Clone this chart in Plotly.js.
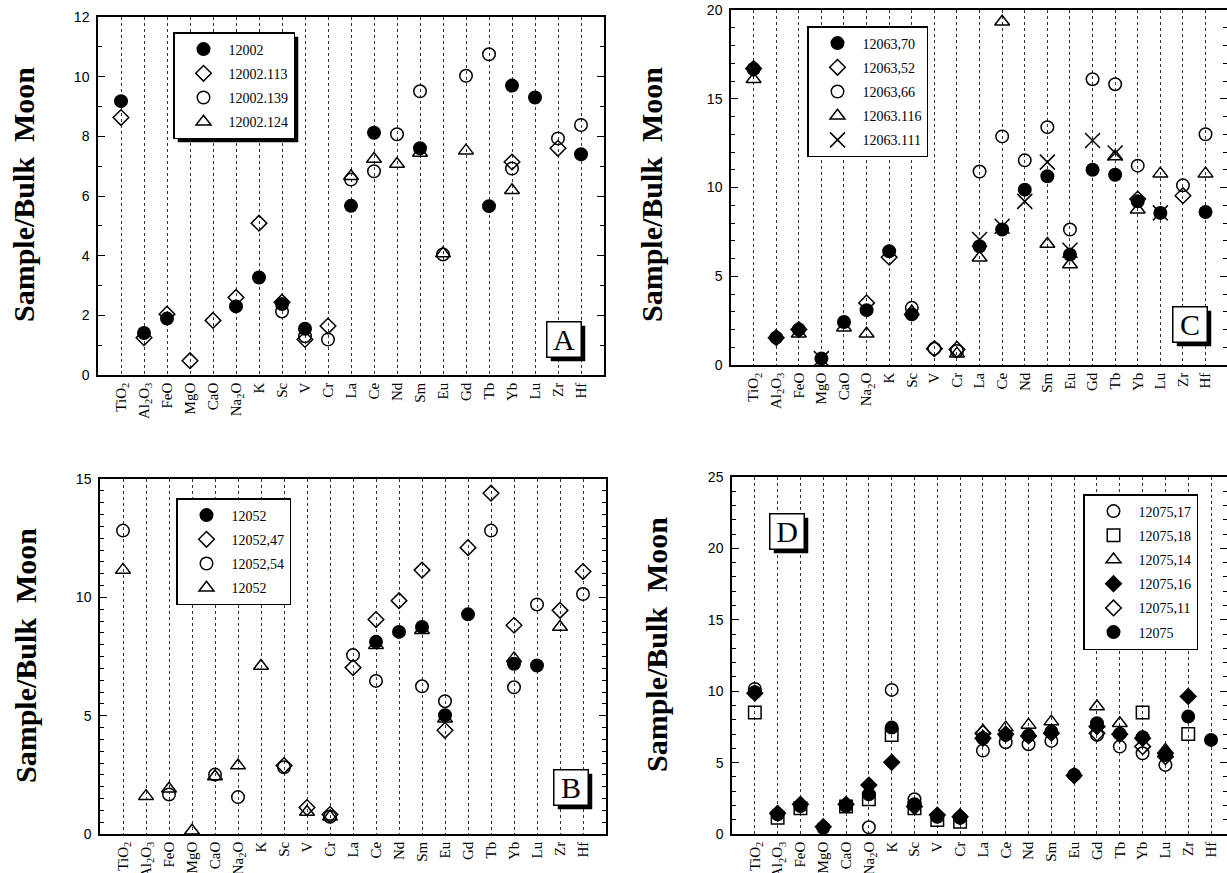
<!DOCTYPE html>
<html><head><meta charset="utf-8">
<script src="https://cdn.plot.ly/plotly-3.0.1.min.js"></script>
<style>html,body{margin:0;padding:0;background:#fff}#chart{width:1227px;height:873px}</style>
</head><body><div id="chart"></div>
<script>
// ---------------- DATA ----------------
const categories = ['TiO2','Al2O3','FeO','MgO','CaO','Na2O','K','Sc','V','Cr','La','Ce','Nd','Sm','Eu','Gd','Tb','Yb','Lu','Zr','Hf'];
const tickLabels = ['TiO<sub>2</sub>','Al<sub>2</sub>O<sub>3</sub>','FeO','MgO','CaO','Na<sub>2</sub>O','K','Sc','V','Cr','La','Ce','Nd','Sm','Eu','Gd','Tb','Yb','Lu','Zr','Hf'];

// Panel A
const namesA = ['12002','12002.113','12002.139','12002.124'];
const a_12002     = [9.18,1.41,1.89,null,null,2.30,3.27,2.38,1.55,null,5.67,8.12,null,7.60,null,null,5.66,9.70,9.30,null,7.40];
const a_12002_113 = [8.63,1.25,2.04,0.48,1.83,2.60,5.09,2.44,1.19,1.64,null,null,null,null,null,null,null,7.14,null,7.60,null];
const a_12002_139 = [null,null,null,null,null,null,null,2.13,1.30,1.19,6.55,6.83,8.07,9.51,4.04,10.03,10.75,6.92,null,7.93,8.38];
const a_12002_124 = [null,null,null,null,null,null,null,null,null,null,6.66,7.24,7.07,7.44,4.07,7.52,null,6.19,null,null,null];

// Panel B
const namesB = ['12052','12052,47','12052,54','12052'];
const b_12052    = [null,null,null,null,null,null,null,null,null,null,null,8.12,8.54,8.75,5.02,9.28,null,7.19,7.12,null,null];
const b_12052_47 = [null,null,null,null,null,null,null,2.89,1.12,0.82,7.03,9.06,9.86,11.15,4.38,12.10,14.40,8.82,null,9.45,11.09];
const b_12052_54 = [12.82,null,1.67,null,2.51,1.56,null,2.82,null,0.73,7.56,6.47,null,6.24,5.61,null,12.82,6.20,9.70,null,10.14];
const b_12052_t  = [11.16,1.60,1.91,0.14,2.43,2.89,7.10,null,0.93,0.73,null,7.98,null,8.61,4.87,null,null,7.42,null,8.75,null];

// Panel C
const namesC = ['12063,70','12063,52','12063,66','12063.116','12063.111'];
const c_70  = [16.68,1.54,2.00,0.36,2.42,3.09,6.41,2.85,null,null,6.69,7.63,9.88,10.63,6.22,11.00,10.72,9.22,8.57,null,8.62];
const c_52  = [16.70,1.54,2.00,null,null,3.50,6.07,null,0.92,0.88,null,null,null,null,null,null,null,9.35,null,9.54,null];
const c_66  = [null,null,null,null,null,null,null,3.22,0.92,0.79,10.90,12.88,11.53,13.40,7.63,16.10,15.82,11.23,null,10.12,13.00];
const c_116 = [16.10,null,1.76,null,2.10,1.76,null,3.00,null,0.64,6.04,19.34,null,6.82,5.66,null,11.75,8.75,10.78,null,10.78];
const c_111 = [null,null,null,0.36,null,null,null,null,null,null,7.07,7.82,9.22,11.43,6.47,12.65,11.94,null,8.57,null,null];

// Panel D
const namesD = ['12075,17','12075,18','12075,14','12075,16','12075,11','12075'];
const d_17 = [10.16,null,null,null,null,0.47,10.09,2.43,null,null,5.84,6.43,6.29,6.52,null,6.94,6.12,5.65,4.84,null,null];
const d_18 = [8.50,1.14,1.80,null,1.92,2.43,6.94,1.80,0.98,0.86,null,null,null,null,null,null,null,8.50,null,7.01,null];
const d_14 = [null,null,null,null,null,null,null,null,null,null,7.22,7.45,7.64,7.87,null,8.93,7.76,null,5.89,null,null];
const d_16 = [9.86,1.45,2.08,0.51,2.08,3.43,5.02,1.92,1.33,1.21,6.70,6.99,6.87,7.06,4.09,7.52,6.99,6.70,5.65,9.63,null];
const d_11 = [null,null,null,null,null,null,null,null,null,null,7.06,null,null,null,null,7.06,null,6.12,5.42,null,null];
const d_12075 = [9.93,1.38,1.96,0.44,1.96,2.78,7.45,2.08,1.21,1.14,6.70,6.94,6.89,7.17,4.14,7.76,7.01,6.78,5.54,8.22,6.59];

const panelLetters = ['A','B','C','D'];
const yTitle = 'Sample/Bulk\u00a0\u00a0Moon';

// ---------------- LAYOUT HELPERS ----------------
const W = 1227, H = 873;
const PX = p => p / W;
const PY = p => 1 - p / H;
const SERIF = 'Liberation Serif, Times New Roman, serif';
const SANS = 'Liberation Sans, Arial, sans-serif';

const STY = {
  filledCircle: {symbol:'circle', size:12.5},
  openDiamond:  {symbol:'diamond-open', size:12},
  openCircle:   {symbol:'circle-open', size:12.5},
  openTriangle: {symbol:'triangle-up-open', size:13},
  cross:        {symbol:'x-thin-open', size:15},
  openSquare:   {symbol:'square-open', size:12.5},
  filledDiamond:{symbol:'diamond', size:12}
};

let gid = 0;
function tr(name, y, sty, ax, legend) {
  gid++;
  return {
    type:'scatter', mode:'markers', x:categories, y:y, name:name,
    xaxis:'x'+ax, yaxis:'y'+ax, legend:legend, legendgroup:'g'+gid,
    marker:{symbol:sty.symbol, size:sty.size, color:'black', line:{color:'black', width:1.5}},
    cliponaxis:false, hoverinfo:'name+y'
  };
}

const data = [
  tr(namesA[0], a_12002, STY.filledCircle, '', 'legend'),
  tr(namesA[1], a_12002_113, STY.openDiamond, '', 'legend'),
  tr(namesA[2], a_12002_139, STY.openCircle, '', 'legend'),
  tr(namesA[3], a_12002_124, STY.openTriangle, '', 'legend'),

  tr(namesB[0], b_12052, STY.filledCircle, '2', 'legend2'),
  tr(namesB[1], b_12052_47, STY.openDiamond, '2', 'legend2'),
  tr(namesB[2], b_12052_54, STY.openCircle, '2', 'legend2'),
  tr(namesB[3], b_12052_t, STY.openTriangle, '2', 'legend2'),

  tr(namesC[0], c_70, STY.filledCircle, '3', 'legend3'),
  tr(namesC[1], c_52, STY.openDiamond, '3', 'legend3'),
  tr(namesC[2], c_66, STY.openCircle, '3', 'legend3'),
  tr(namesC[3], c_116, STY.openTriangle, '3', 'legend3'),
  tr(namesC[4], c_111, STY.cross, '3', 'legend3'),

  tr(namesD[0], d_17, STY.openCircle, '4', 'legend4'),
  tr(namesD[1], d_18, STY.openSquare, '4', 'legend4'),
  tr(namesD[2], d_14, STY.openTriangle, '4', 'legend4'),
  tr(namesD[3], d_16, STY.filledDiamond, '4', 'legend4'),
  tr(namesD[4], d_11, STY.openDiamond, '4', 'legend4'),
  tr(namesD[5], d_12075, STY.filledCircle, '4', 'legend4')
];

function xax(x0, x1, rmax, anchor) {
  return {
    domain:[PX(x0), PX(x1)], anchor:anchor, type:'category',
    categoryorder:'array', categoryarray:categories,
    tickmode:'array', tickvals:categories, ticktext:tickLabels,
    range:[-1, rmax], tickangle:-90, automargin:false,
    showgrid:true, gridcolor:'#333', griddash:'dot', gridwidth:1,
    ticks:'', showline:true, mirror:true, linewidth:1.5, linecolor:'black', zeroline:false,
    tickfont:{family:SERIF, size:15, color:'black'}, fixedrange:true
  };
}
function yax(y0, y1, rmax, dtick, minor, anchor) {
  return {
    domain:[PY(y1), PY(y0)], anchor:anchor, range:[0, rmax], dtick:dtick, tick0:0,
    ticks:'inside', ticklen:7, tickwidth:1, tickcolor:'black', mirror:'ticks',
    showline:true, linewidth:1.5, linecolor:'black', showgrid:false, zeroline:false,
    minor:{dtick:minor, tick0:0, ticks:'inside', ticklen:4, tickwidth:1, tickcolor:'black', showgrid:false},
    tickfont:{family:SANS, size:14, color:'black'}, ticklabelstandoff:4, automargin:false, fixedrange:true
  };
}
function leg(left, top) {
  return {
    x:PX(left), y:PY(top), xanchor:'left', yanchor:'top', xref:'paper', yref:'paper',
    bgcolor:'white', bordercolor:'black', borderwidth:1.5,
    font:{family:SERIF, size:14, color:'black'}, tracegroupgap:3, itemwidth:40, indentation:4
  };
}

const labelPos = [[564,339.5],[570.5,787.5],[1190,324.5],[786.5,531.5]];
const titlePos = [[24,195],[25,656],[651,194],[656,645]];

const annotations = [];
panelLetters.forEach((L,i)=>{
  annotations.push({
    xref:'paper', yref:'paper', x:PX(labelPos[i][0]), y:PY(labelPos[i][1]),
    xanchor:'center', yanchor:'middle', showarrow:false, text:L,
    font:{family:SERIF, size:30, color:'black'},
    bgcolor:'white', bordercolor:'black', borderwidth:1.5, borderpad:1, width:31, height:32
  });
});
titlePos.forEach(p=>{
  annotations.push({
    xref:'paper', yref:'paper', x:PX(p[0]), y:PY(p[1]), xanchor:'center', yanchor:'middle',
    showarrow:false, textangle:-90, text:yTitle,
    font:{family:SERIF, size:30, color:'black', weight:700}
  });
});

const layout = {
  width:W, height:H, margin:{l:0,r:0,t:0,b:0}, paper_bgcolor:'white', plot_bgcolor:'white',
  showlegend:true, hovermode:'closest',
  xaxis:  xax(98, 604, 21, 'y'),
  yaxis:  yax(17, 375, 12, 2, 1, 'x'),
  xaxis2: xax(100, 606, 21, 'y2'),
  yaxis2: yax(479, 834, 15, 5, 0.5, 'x2'),
  xaxis3: xax(731, 1227, 20.95, 'y3'),
  yaxis3: yax(10, 365, 20, 5, 1, 'x3'),
  xaxis4: xax(732, 1227, 20.7, 'y4'),
  yaxis4: yax(477, 834, 25, 5, 1, 'x4'),
  legend: leg(173, 32), legend2: leg(176, 498), legend3: leg(807, 26), legend4: leg(1083, 494),
  annotations:annotations, shapes:[]
};

const gd = document.getElementById('chart');
Plotly.newPlot(gd, data, layout, {displayModeBar:false}).then(()=>{
  const base = gd.getBoundingClientRect();
  const shapes = [];
  const off = 4;
  function shadowFor(el) {
    const r = el.getBoundingClientRect();
    const x0 = r.left - base.left, y0 = r.top - base.top, x1 = r.right - base.left, y1 = r.bottom - base.top;
    shapes.push({type:'rect', xref:'paper', yref:'paper', layer:'above',
      x0:PX(x0+off), x1:PX(x1+off), y0:PY(y1+off), y1:PY(y0+off),
      fillcolor:'black', line:{width:0}});
  }
  gd.querySelectorAll('g.legend rect.bg').forEach(shadowFor);
  const ann = gd.querySelectorAll('g.annotation');
  for (let i=0;i<4 && i<ann.length;i++){ const bg = ann[i].querySelector('rect.bg'); if (bg) shadowFor(bg); }
  return Plotly.relayout(gd, {shapes:shapes});
});
</script>
</body></html>
